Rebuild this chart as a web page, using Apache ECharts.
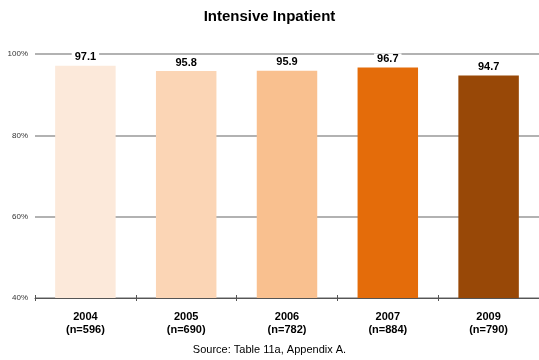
<!DOCTYPE html>
<html>
<head>
<meta charset="utf-8">
<script src="https://cdn.jsdelivr.net/npm/echarts@6/dist/echarts.min.js"></script>
<style>
  html, body { margin: 0; padding: 0; background: #ffffff; }
  #chart { width: 539px; height: 360px; }
</style>
</head>
<body>
<div id="chart"></div>
<script>
// Survey years with sample sizes
const years = ['2004', '2005', '2006', '2007', '2009'];
const sampleSizes = ['n=596', 'n=690', 'n=782', 'n=884', 'n=790'];
// Percentage per year
const values = [97.1, 95.8, 95.9, 96.7, 94.7];
// Fill colour per bar
const barColors = ['#FCE9DA', '#FBD5B5', '#F9C08F', '#E46C0A', '#984807'];
// Value axis ticks
const yTicks = [40, 60, 80, 100];

const FONT = 'Liberation Sans, Arial, sans-serif';
const chart = echarts.init(document.getElementById('chart'), null, { renderer: 'canvas' });

chart.setOption({
  animation: false,
  backgroundColor: '#ffffff',
  title: {
    text: 'Intensive Inpatient',
    left: 'center',
    top: 4,
    textStyle: { fontFamily: FONT, fontSize: 15, fontWeight: 'bold', color: '#000' }
  },
  graphic: [{
    type: 'text',
    left: 'center',
    top: 344,
    style: {
      text: 'Source: Table 11a, Appendix A.',
      font: '11px "Liberation Sans", Arial, sans-serif',
      fill: '#000'
    }
  }],
  grid: { left: 35, right: -3, top: 54, bottom: 62 },
  xAxis: [{
    type: 'category',
    data: years.map((y, i) => y + '\n(' + sampleSizes[i] + ')'),
    axisLine: { lineStyle: { color: '#555', width: 1 } },
    axisTick: { show: true, length: 3, lineStyle: { color: '#555' } },
    axisLabel: {
      margin: 12,
      fontFamily: FONT,
      fontSize: 11,
      fontWeight: 'bold',
      color: '#000',
      lineHeight: 13
    }
  }, {
    // upper half of the crossing tick marks
    type: 'category',
    position: 'bottom',
    data: years,
    axisLine: { show: false },
    axisTick: { show: true, inside: true, length: 3, lineStyle: { color: '#555' } },
    axisLabel: { show: false }
  }],
  yAxis: {
    type: 'value',
    min: yTicks[0],
    max: yTicks[yTicks.length - 1],
    interval: 20,
    axisLine: { show: false },
    axisTick: { show: false },
    splitLine: { lineStyle: { color: '#999', width: 1.5 } },
    axisLabel: {
      formatter: v => v + '%',
      margin: 7,
      fontFamily: FONT,
      fontSize: 8,
      color: '#333'
    }
  },
  series: [{
    type: 'bar',
    barWidth: '60%',
    data: values.map((v, i) => ({ value: v, itemStyle: { color: barColors[i] } })),
    label: {
      show: true,
      position: 'top',
      distance: 3,
      formatter: p => p.value.toFixed(1),
      fontFamily: FONT,
      fontSize: 11,
      fontWeight: 'bold',
      color: '#000',
      backgroundColor: '#fff',
      padding: [0, 3]
    }
  }]
});
</script>
</body>
</html>
